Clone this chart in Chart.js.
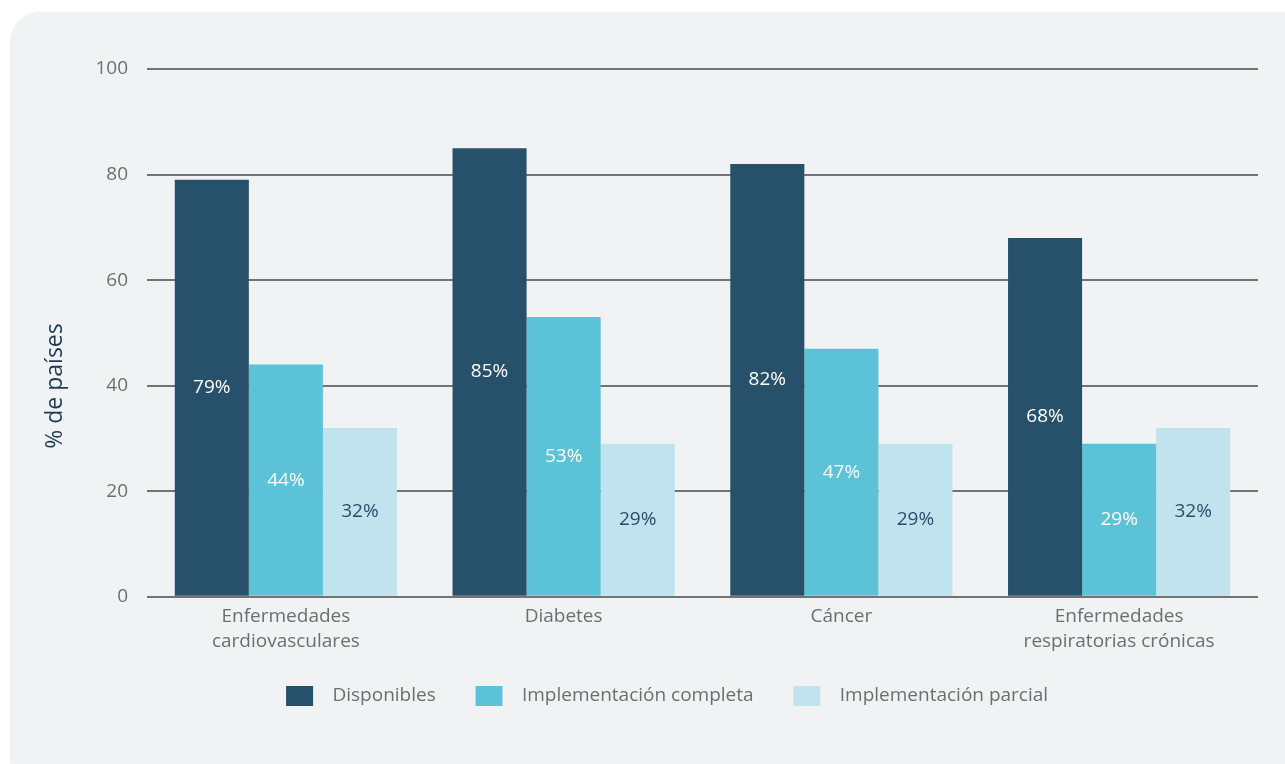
<!DOCTYPE html>
<html>
<head>
<meta charset="utf-8">
<script src="https://cdn.jsdelivr.net/npm/chart.js@4"></script>
<style>
  html, body { margin: 0; padding: 0; background: #fff; overflow: hidden; }
  #panel { position: absolute; left: 10px; top: 12px; width: 1300px; height: 780px; background: #f1f2f4; border-radius: 30px; }
  #wrap { position: absolute; left: 0; top: 0; width: 1285px; height: 764px; }
</style>
</head>
<body>
<div id="panel"></div>
<div id="wrap"><canvas id="grafico" width="1285" height="764"></canvas></div>
<script>
const categorias = [["Enfermedades", "cardiovasculares"], "Diabetes", "Cáncer", ["Enfermedades", "respiratorias crónicas"]];
const disponibles = [79, 85, 82, 68];
const completa = [44, 53, 47, 29];
const parcial = [32, 29, 29, 32];
const ticksY = [0, 20, 40, 60, 80, 100];

const corEscura = "#27506b";
const corMedia = "#5bc2d7";
const corClara = "#c1e3ed";
const corTexto = "#6d6e71";
const fonte = "'Open Sans', Lato, sans-serif";

// rótulos de valor dentro das barras
const rotulosBarras = {
  id: "rotulosBarras",
  afterDatasetsDraw(chart) {
    const ctx = chart.ctx;
    ctx.save();
    ctx.font = "19px " + fonte;
    ctx.textAlign = "center";
    ctx.textBaseline = "middle";
    chart.data.datasets.forEach((ds, i) => {
      const meta = chart.getDatasetMeta(i);
      meta.data.forEach((bar, j) => {
        ctx.fillStyle = i === 2 ? "#2a4d6a" : "#ffffff";
        ctx.fillText(ds.data[j] + "%", bar.x, (bar.y + bar.base) / 2);
      });
    });
    ctx.restore();
  }
};

// título do eixo Y
const tituloY = {
  id: "tituloY",
  afterDraw(chart) {
    const ctx = chart.ctx;
    ctx.save();
    ctx.translate(55, 386);
    ctx.rotate(-Math.PI / 2);
    ctx.font = "23px " + fonte;
    ctx.fillStyle = "#1e3a53";
    ctx.textAlign = "center";
    ctx.textBaseline = "middle";
    ctx.fillText("% de países", 0, 0);
    ctx.restore();
  }
};

const padEsq = 91;

new Chart(document.getElementById("grafico"), {
  type: "bar",
  data: {
    labels: categorias,
    datasets: [
      { label: "Disponibles", data: disponibles, backgroundColor: corEscura },
      { label: "Implementación completa", data: completa, backgroundColor: corMedia },
      { label: "Implementación parcial", data: parcial, backgroundColor: corClara }
    ]
  },
  options: {
    responsive: false,
    animation: false,
    categoryPercentage: 0.8,
    barPercentage: 1.0,
    layout: { padding: { left: padEsq, right: 27, top: 69, bottom: 48 } },
    plugins: {
      tooltip: { enabled: false },
      legend: {
        position: "bottom",
        labels: {
          color: corTexto,
          font: { size: 19, family: fonte },
          boxWidth: 27,
          boxHeight: 20,
          padding: 25,
          generateLabels(chart) {
            const itens = Chart.defaults.plugins.legend.labels.generateLabels(chart);
            itens.forEach(it => { it.text = "  " + it.text + "   "; it.lineWidth = 0; });
            return itens;
          }
        }
      }
    },
    scales: {
      x: {
        grid: { display: false, drawTicks: false },
        border: { display: false },
        ticks: { color: corTexto, font: { size: 19, family: fonte, lineHeight: 1.32 }, padding: 7 }
      },
      y: {
        min: 0,
        max: 100,
        afterFit(scale) { scale.width = 147 - padEsq; },
        afterBuildTicks(scale) { scale.ticks = ticksY.map(v => ({ value: v })); },
        grid: { color: "#737373", lineWidth: 2, drawTicks: false },
        border: { display: false },
        ticks: { color: corTexto, font: { size: 19, family: fonte }, padding: 19 }
      }
    }
  },
  plugins: [rotulosBarras, tituloY]
});
</script>
</body>
</html>
